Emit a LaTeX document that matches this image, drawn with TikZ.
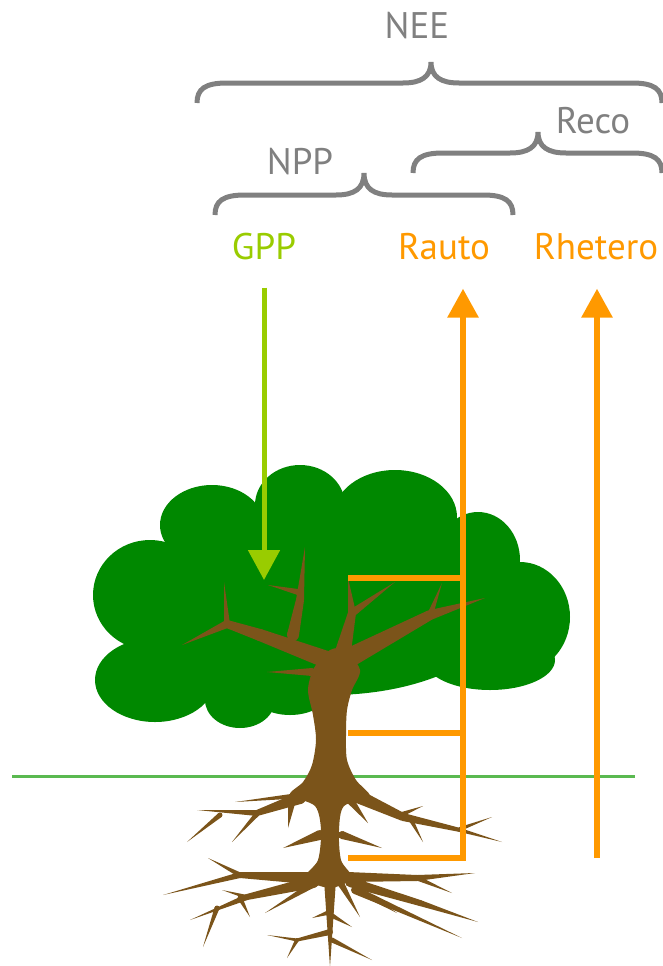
\documentclass[tikz,border=0pt]{standalone}
\usepackage{fontspec}
\setmainfont{PT Sans}
\usetikzlibrary{arrows.meta,calc}

\definecolor{leaf}{RGB}{0,136,0}
\definecolor{bark}{RGB}{123,84,26}
\definecolor{gppgreen}{RGB}{153,204,0}
\definecolor{resporange}{RGB}{255,153,0}
\definecolor{bracegray}{RGB}{128,128,128}
\definecolor{soil}{RGB}{90,185,80}

% tapered limb from #1 (half width #3) to #2 (half width #4)
\newcommand\limb[4]{%
  \fill[bark] ($#1!#3!90:#2$) -- ($#2!#4!-90:#1$) -- ($#2!#4!90:#1$) -- ($#1!#3!-90:#2$) -- cycle;
  \fill[bark] #1 circle (#3);}

% curly brace: left x, right x, middle x, end y, bar y, tip y
\newcommand\curly[6]{%
  \draw[bracestroke] (#1,#4) .. controls (#1,#5+6) and (#1+8,#5) .. (#1+30,#5)
    -- (#3-28,#5) .. controls (#3-10,#5) and (#3,#5-6) .. (#3,#6)
    .. controls (#3,#5-6) and (#3+10,#5) .. (#3+28,#5)
    -- (#2-30,#5) .. controls (#2-8,#5) and (#2,#5+6) .. (#2,#4);}

\tikzset{
  lab/.style={font=\fontsize{37}{37}\selectfont, inner sep=0pt, anchor=base},
  bracestroke/.style={draw=bracegray, line width=5pt},
  flow/.style={line width=6pt, draw=resporange},
  uptake/.style={line width=5pt, draw=gppgreen,
    -{Triangle[length=30pt,width=31pt]}},
  release/.style={flow, -{Triangle[length=29pt,width=30pt]}},
}

\begin{document}
\begin{tikzpicture}[x=1pt,y=-1pt]
\useasboundingbox (0,0) rectangle (663,966);

% ground surface
\draw[soil, line width=3pt] (12,776) -- (635,776);

% canopy
\begin{scope}[fill=leaf]
  \fill (330,600) ellipse [x radius=180, y radius=95];
  \fill (212,525) ellipse [x radius=52, y radius=40];
  \fill (300,505) ellipse [x radius=45, y radius=40];
  \fill (395,517) ellipse [x radius=62, y radius=47];
  \fill (478,560) ellipse [x radius=42, y radius=48];
  \fill (520,617) ellipse [x radius=50, y radius=55];
  \fill (490,660) ellipse [x radius=65, y radius=30];
  \fill (150,595) ellipse [x radius=57, y radius=55];
  \fill (155,680) ellipse [x radius=60, y radius=42];
  \fill (200,668) ellipse [x radius=40, y radius=30];
  \fill (240,700) ellipse [x radius=35, y radius=28];
  \fill (290,690) ellipse [x radius=40, y radius=25];
\end{scope}

% trunk
\fill[bark] plot[smooth cycle, tension=0.5] coordinates {
  (330,650) (314,668) (308,690) (313,715) (316,740) (312,765) (303,782)
  (290,795) (315,806) (321,830) (318,860) (305,878) (330,888) (352,878)
  (341,860) (339,830) (344,806) (370,797) (356,780) (347,760) (346,735)
  (347,710) (352,690) (360,670) (345,650)};

% branches
\limb{(333,662)}{(260,635)}{9pt}{6pt}
\limb{(260,635)}{(227,624)}{6pt}{4pt}
\limb{(227,624)}{(182,645)}{4pt}{0pt}
\limb{(227,624)}{(224,582)}{3pt}{0pt}
\limb{(293,635)}{(300,600)}{6pt}{4pt}
\limb{(300,600)}{(305,547)}{4pt}{0pt}
\limb{(298,592)}{(268,585)}{3pt}{0pt}
\limb{(343,652)}{(352,613)}{8pt}{4pt}
\limb{(352,613)}{(348,578)}{4pt}{0pt}
\limb{(352,613)}{(395,582)}{4pt}{0pt}
\limb{(345,660)}{(430,615)}{10pt}{5pt}
\limb{(430,615)}{(485,598)}{5pt}{0pt}
\limb{(430,615)}{(442,583)}{3pt}{0pt}
\limb{(312,672)}{(267,672)}{4pt}{0pt}

% roots
\limb{(300,798)}{(257,813)}{6pt}{3pt}
\limb{(257,813)}{(197,810)}{3pt}{0pt}
\limb{(220,815)}{(187,842)}{2.5pt}{0pt}
\limb{(257,814)}{(232,842)}{2.5pt}{0pt}
\limb{(292,800)}{(288,828)}{4pt}{0pt}
\limb{(305,795)}{(235,802)}{3pt}{0pt}
\limb{(320,835)}{(283,848)}{5pt}{0pt}
\limb{(355,795)}{(403,817)}{7pt}{4pt}
\limb{(403,817)}{(460,830)}{4pt}{2pt}
\limb{(460,830)}{(502,842)}{2pt}{0pt}
\limb{(400,815)}{(423,806)}{2.5pt}{0pt}
\limb{(410,818)}{(423,842)}{2.5pt}{0pt}
\limb{(460,829)}{(492,817)}{2pt}{0pt}
\limb{(350,800)}{(368,823)}{4pt}{0pt}
\limb{(342,835)}{(382,848)}{4pt}{0pt}
\limb{(307,878)}{(240,875)}{6pt}{3pt}
\limb{(240,875)}{(163,895)}{3pt}{0pt}
\limb{(240,875)}{(208,858)}{2.5pt}{0pt}
\limb{(313,882)}{(247,897)}{6pt}{3pt}
\limb{(247,897)}{(190,920)}{3pt}{0pt}
\limb{(240,898)}{(250,917)}{2.5pt}{0pt}
\limb{(217,908)}{(203,947)}{2.5pt}{0pt}
\limb{(247,897)}{(222,890)}{2pt}{0pt}
\limb{(320,880)}{(265,913)}{4pt}{0pt}
\limb{(330,880)}{(330,967)}{6pt}{0pt}
\limb{(330,912)}{(312,918)}{2.5pt}{0pt}
\limb{(330,932)}{(297,940)}{3pt}{1.5pt}
\limb{(297,940)}{(267,935)}{1.5pt}{0pt}
\limb{(297,940)}{(287,958)}{2pt}{0pt}
\limb{(332,940)}{(372,960)}{2.5pt}{0pt}
\limb{(331,915)}{(352,927)}{2.5pt}{0pt}
\limb{(348,877)}{(417,878)}{5pt}{3pt}
\limb{(417,878)}{(475,873)}{3pt}{0pt}
\limb{(417,878)}{(452,893)}{2.5pt}{0pt}
\limb{(350,882)}{(420,903)}{5pt}{3pt}
\limb{(420,903)}{(478,922)}{3pt}{0pt}
\limb{(355,890)}{(462,938)}{4pt}{0pt}
\limb{(370,897)}{(397,913)}{2.5pt}{0pt}
\limb{(340,882)}{(360,917)}{3.5pt}{0pt}

% flux labels
\node[lab, text=gppgreen] (gpp) at (264,259) {GPP};
\node[lab, text=resporange] (rauto) at (444,259) {Rauto};
\node[lab, text=resporange] (rhetero) at (596,259) {Rhetero};

% aggregate labels and braces
\node[lab, text=bracegray] (nee) at (417,39) {NEE};
\node[lab, text=bracegray] (npp) at (300,174) {NPP};
\node[lab, text=bracegray] (reco) at (593,133) {Reco};
\curly{197}{662}{431}{103}{83}{62}
\curly{413}{662}{538}{173}{153}{132}
\curly{215}{513}{364}{215}{195}{173}

% autotrophic respiration from canopy, stem and roots
\coordinate (rautoBase) at (463,858);
\coordinate (fromLeaves) at (348,578);
\coordinate (fromStem) at (348,733);
\coordinate (fromRoots) at (348,858);
\draw[flow] (fromLeaves) -- (fromLeaves -| rautoBase);
\draw[flow] (fromStem) -- (fromStem -| rautoBase);
\draw[release, shorten >=29pt] (fromRoots) -- (rautoBase) -- (rautoBase |- rauto.south);

% heterotrophic respiration from soil
\coordinate (soilBase) at (597,858);
\draw[release, shorten >=29pt] (soilBase) -- (soilBase |- rhetero.south);

% photosynthetic uptake
\coordinate (gppTip) at (264,580);
\draw[uptake, shorten <=28pt] (gpp.south) -- (gppTip);
\end{tikzpicture}
\end{document}
